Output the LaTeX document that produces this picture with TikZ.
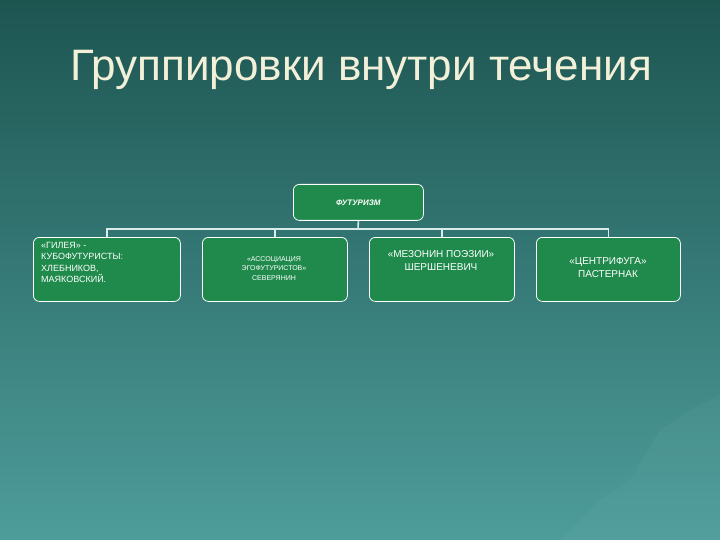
\documentclass[tikz,border=0pt]{standalone}
\usepackage{fontspec}
\setmainfont{Liberation Sans}
\definecolor{bgtop}{HTML}{1D5551}
\definecolor{bgbot}{HTML}{4E9D9B}
\definecolor{boxg}{HTML}{1F8A4C}
\definecolor{ttl}{HTML}{F2F0D8}
\begin{document}
\begin{tikzpicture}[x=1pt,y=-1pt,
  bx/.style={draw=white,line width=0.8pt,fill=boxg,rounded corners=6pt,text=white,anchor=north west,inner sep=0pt},
  con/.style={draw=white!85!teal,line width=1.6pt}]
\shade[top color=bgtop,bottom color=bgbot] (0,0) rectangle (720,540);
\useasboundingbox (0,0) rectangle (720,540);
\fill[bgbot!80!white,opacity=0.12] (560,540) -- (600,500) -- (630,480) -- (660,430) -- (690,410) -- (720,395) -- (720,540) -- cycle;
\node[text=ttl,font=\fontsize{44}{50}\selectfont] (title) at (361,70) {Группировки внутри течения};
\node[bx,minimum width=130,minimum height=36,font=\fontsize{8}{10}\selectfont\bfseries\itshape] (top) at (293,184) {ФУТУРИЗМ};
\node[bx,minimum width=147,minimum height=64] (b1) at (33,237) {};
\node[bx,minimum width=145,minimum height=64] (b2) at (202,237) {};
\node[bx,minimum width=145,minimum height=64] (b3) at (369,237) {};
\node[bx,minimum width=144,minimum height=64] (b4) at (536,237) {};
\node[anchor=north west,text=white,align=left,font=\fontsize{9}{11.5}\selectfont,inner sep=0pt] (t1) at (41,242) {«ГИЛЕЯ» -\\КУБОФУТУРИСТЫ:\\ХЛЕБНИКОВ,\\МАЯКОВСКИЙ.};
\node[anchor=north,text=white,align=center,font=\fontsize{7}{9.5}\selectfont,inner sep=0pt] (t2) at (274,256) {«АССОЦИАЦИЯ\\ЭГОФУТУРИСТОВ»\\СЕВЕРЯНИН};
\node[anchor=north,text=white,align=center,font=\fontsize{10}{13}\selectfont,inner sep=0pt] (t3) at (441,250) {«МЕЗОНИН ПОЭЗИИ»\\ШЕРШЕНЕВИЧ};
\node[anchor=north,text=white,align=center,font=\fontsize{10}{13}\selectfont,inner sep=0pt] (t4) at (608,257) {«ЦЕНТРИФУГА»\\ПАСТЕРНАК};
\coordinate (j) at (358,229);
\draw[con] (top.south) -- (j);
\draw[con] (j) -| (b1.north);
\draw[con] (j) -| (b2.north);
\draw[con] (j) -| (b3.north);
\draw[con] (j) -| (b4.north);
\end{tikzpicture}
\end{document}
